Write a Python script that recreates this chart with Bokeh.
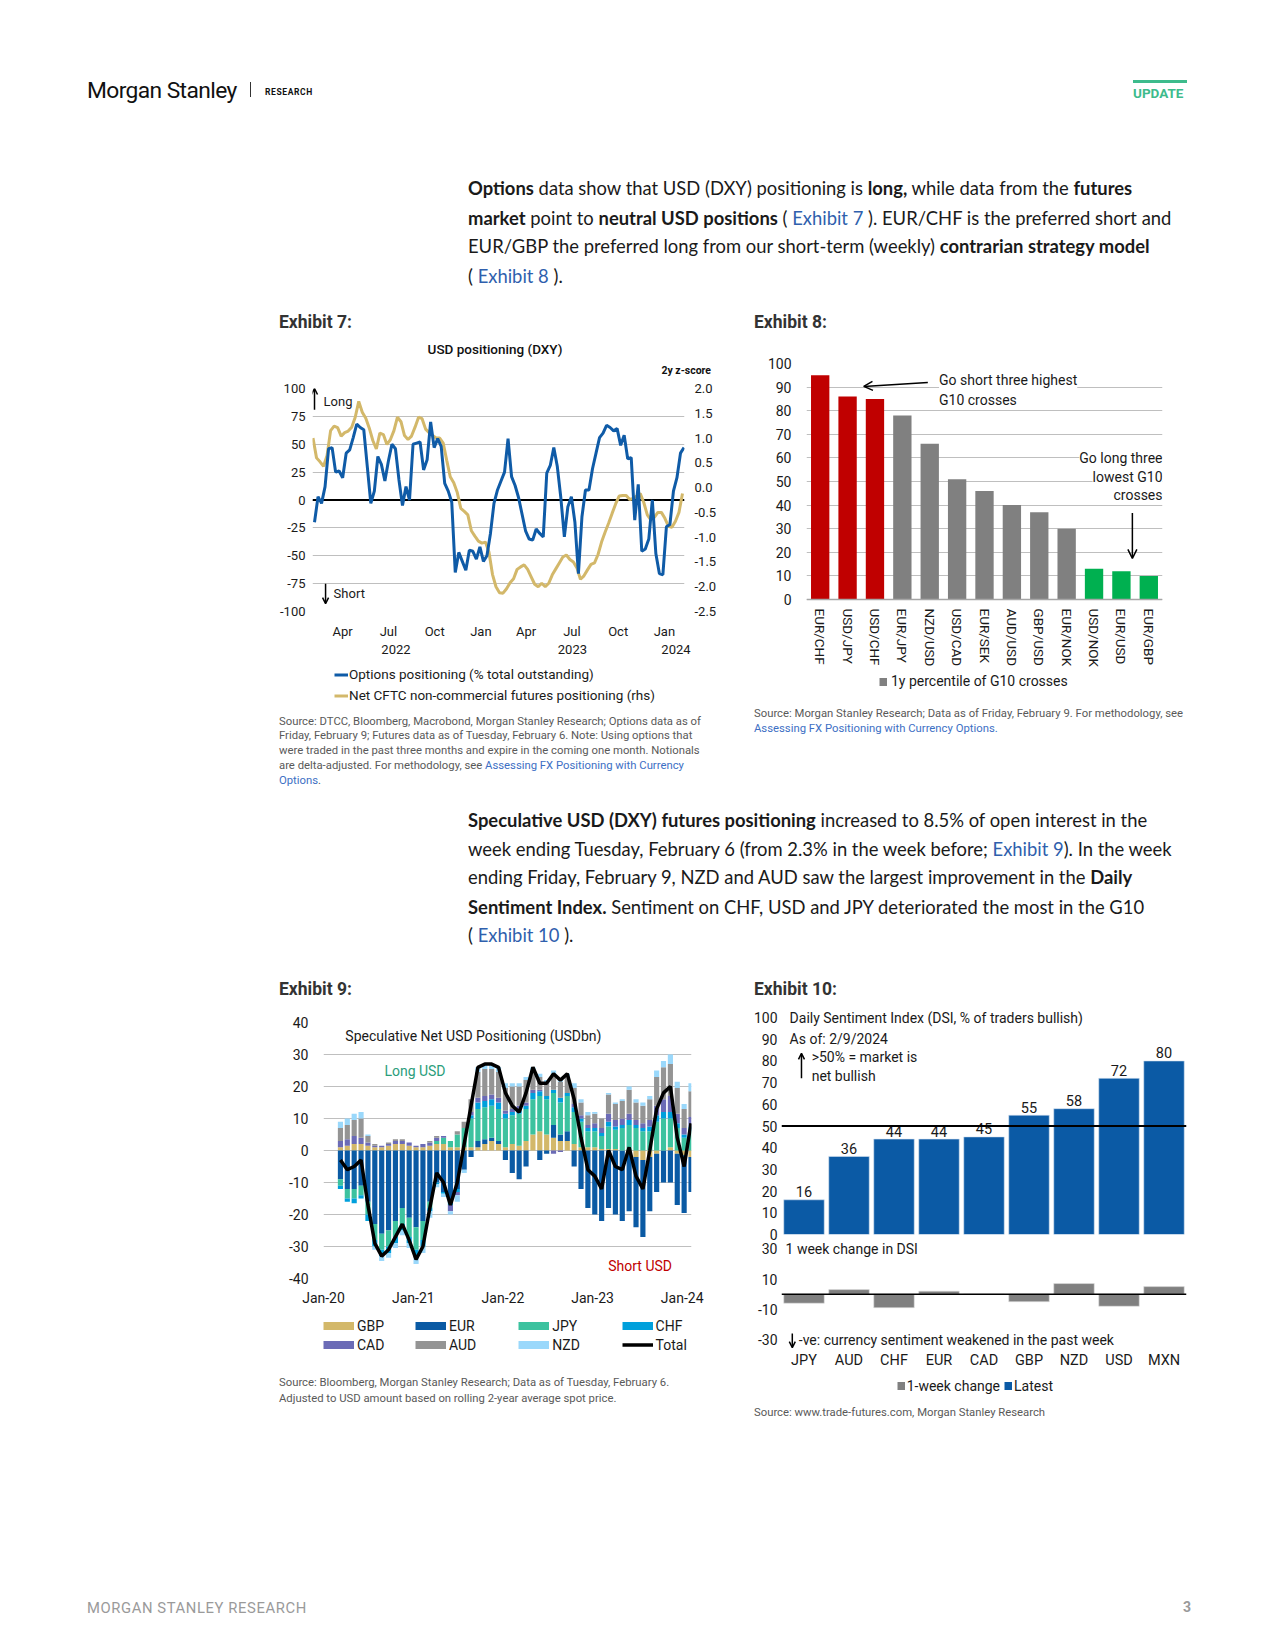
import calendar
from datetime import datetime, timedelta

from bokeh.plotting import figure
from bokeh.layouts import column, row
from bokeh.core.properties import value
from bokeh.models import (Range1d, FactorRange, LinearAxis, DatetimeAxis, FixedTicker,
                          DatetimeTickFormatter, NumeralTickFormatter, Span, Label, LabelSet,
                          Arrow, OpenHead, Legend, LegendItem, ColumnDataSource, Div, Spacer)
from bokeh.embed import file_html
from bokeh.resources import INLINE

NAN = float("nan")

# ---------------------------------------------------------------- DATA
# Exhibit 7: weekly options positioning (% total outstanding), from Fri 2022-02-04
ex7_options_start = datetime(2022, 2, 4)
ex7_options = [-20, 3, -3, 12, 46, 47, 25, 26, 20, 42,
               45, 56, 68, 65, 63, 30, -3, 8, 39, 32,
               17, 35, 50, 46, 18, -5, 12, 0, 50, 51,
               52, 27, 36, 70, 47, 55, 48, 15, 8, -2,
               -65, -47, -55, -63, -45, -46, -53, -42, -55, -50,
               -30, -3, 9, 17, 25, 55, 21, 13, 2, -13,
               -28, -35, -36, -26, -30, -33, 24, 31, 47, 30,
               2, -33, -6, 3, -20, -66, -15, 9, 9, 28,
               42, 56, 60, 67, 65, 62, 64, 49, 58, 37,
               38, -18, 14, -46, -44, -35, 0, -48, -66, -67,
               -24, -22, 8, 20, 42, 47]
# Exhibit 7: weekly net CFTC futures positioning (2y z-score), from Tue 2022-02-01
ex7_futures_start = datetime(2022, 2, 1)
ex7_futures = [1.0, 0.6, 0.52, 0.43, 0.65, 1.15, 1.24, 1.21, 1.04, 1.11,
               1.14, 1.22, 1.42, 1.74, 1.52, 1.4, 1.2, 0.95, 0.78, 1.1,
               1.07, 0.87, 0.97, 1.15, 1.42, 1.33, 1.05, 0.97, 1.04, 1.22,
               1.42, 1.39, 1.18, 1.11, 1.05, 1.0, 1.0, 0.9, 0.55, 0.22,
               0.1, -0.1, -0.42, -0.48, -0.55, -0.87, -0.98, -1.08, -1.12, -1.1,
               -1.3, -1.75, -2.0, -2.12, -2.13, -2.04, -1.92, -1.84, -1.65, -1.6,
               -1.56, -1.65, -1.8, -1.95, -2.0, -1.93, -2.0, -1.93, -1.76, -1.64,
               -1.52, -1.4, -1.36, -1.45, -1.5, -1.62, -1.85, -1.78, -1.66, -1.55,
               -1.52, -1.35, -1.1, -0.9, -0.72, -0.52, -0.33, -0.17, -0.16, -0.16,
               -0.24, -0.22, -0.17, -0.12, -0.3, -0.55, -0.65, -0.6, -0.5, -0.5,
               -0.62, -0.78, -0.8, -0.68, -0.5, -0.12]
ex7_month_ticks = ["2022-04-01", "2022-07-01", "2022-10-01", "2023-01-01",
                   "2023-04-01", "2023-07-01", "2023-10-01", "2024-01-01"]
ex7_year_ticks = ["2022-07-16", "2023-07-02", "2024-01-24"]

# Exhibit 8
ex8_pairs = ["EUR/CHF", "USD/JPY", "USD/CHF", "EUR/JPY", "NZD/USD", "USD/CAD", "EUR/SEK",
             "AUD/USD", "GBP/USD", "EUR/NOK", "USD/NOK", "EUR/USD", "EUR/GBP"]
ex8_pct = [95, 86, 85, 78, 66, 51, 46, 40, 37, 30, 13, 12, 10]
ex8_signal = ["short", "short", "short", "none", "none", "none", "none",
              "none", "none", "none", "long", "long", "long"]

# Exhibit 9: every 4 weeks from Tue 2020-03-10 (USDbn)
ex9_start = datetime(2020, 3, 10)
ex9_currencies = ["GBP", "EUR", "JPY", "CHF", "CAD", "AUD", "NZD"]
ex9_gbp = [1, 1.5, 2, 2, 1.5, 1, 1, 1.5, 2, 2,
           1.5, 1, 1, 1.5, 2, 2, 1, 1, 1, 1,
           1, 2, 3, 2, 1, 2, 1.5, 3, 5, 6,
           5, 4, 3, 3, 2, 1, 1, 1, 0.5, 0.5,
           0.5, 0, -1, -2, -3, -2, -1, 0, 1, -1,
           -1.5, -2]
ex9_eur = [-9, -12, -12, -11, -16, -23, -26, -25, -22, -18,
           -21, -24, -22, -16, -10, -13, -16, -12, -6, -2,
           2, 1.5, 1, 1, -3, -7, -9, -5, 0, -3,
           -1, 4, 2, 3, -5, -12, -18, -20, -22, -18,
           -20, -22, -18, -22, -24, -17, -12, -10, -10, -16,
           -18, -11]
ex9_jpy = [-2, -3, -3, -3, -4, -5, -5, -5, -5, -5,
           -6, -7, -6, -2, 1, 2, 2, 4, 6, 9,
           10, 10, 10, 10, 9, 9, 10, 10, 11, 11,
           11, 10, 10, 11, 10, 8, 5, 5, 4, 7,
           6, 7, 8, 7, 6, 6, 9, 10, 9, 7,
           4, 6]
ex9_chf = [-1, -1, -1.5, -1, -2, -2, -2, -2, -2, -2,
           -2, -2, -2, -1, -0.5, -0.5, -1, -1, 0, 1,
           2, 2, 2, 2, 1.5, 1, 1, 1, 2, 1.5,
           1, 1, 1.5, 1, 1.5, 1, 1, 1, 1, 1.5,
           1, 1, 1.5, 1, 1, 1.5, 2, 2, 2, 1.5,
           1, 1.5]
ex9_cad = [2, 2, 2.5, 2, 1, 0.5, 0.5, 0.5, 1, 1,
           1, 0.5, 1, 1, 1, 0.5, -2, -1, 0, 1,
           1.5, 1.5, 1.5, 1.5, 1, 1, 1.5, 1, 1, 0.5,
           0, -1, -0.5, 0, 1, 1, 1, 1.5, 1.5, 2.5,
           2, 2, 2, 1.5, 1.5, 2, 3, 4, 5, 3,
           2, 3]
ex9_aud = [4, 4.5, 5, 6, 2, 0.5, 0, 0.5, 0.5, 0.5,
           0, -0.5, 0, 0.5, 0.5, 0, 0, 1, 2, 4,
           8, 8.5, 8, 8, 7, 7, 6, 7, 6, 4,
           4, 5, 5, 5, 5, 4, 3, 3, 3, 6,
           5, 5.5, 7.5, 5.5, 5.5, 6.5, 9, 10, 10, 8,
           6, 8]
ex9_nzd = [2, 2, 2, 2, 0.5, -1, -1.5, -1.5, -1.5, -1.5,
           -1.5, -2, -2, -2, -1, -1, -1, -2, -1, 0,
           1.5, 1.5, 1.5, 1.5, 1.5, 1, 1, 1, 1, 1,
           1, 1, 1, 1, 1.5, 1, 1, 0.5, 0, 0.5,
           0.5, 0.5, 1, 1, 1, 1, 2, 2, 3, 2,
           1.5, 2.5]
ex9_total = [-3, -6, -5, -3, -17, -29, -33, -31, -27, -23,
             -28, -34, -30, -18, -7, -10, -17, -10, 2, 14,
             26, 27, 27, 26, 18, 14, 12, 18, 26, 21,
             21, 24, 22, 24, 16, 4, -6, -8, -12, 0,
             -5, -6, 1, -8, -12, 0, 13, 18, 20, 4,
             -5, 8.5]
ex9_year_ticks = ["2020-01-01", "2021-01-01", "2022-01-01", "2023-01-01", "2024-01-01"]

# Exhibit 10
ex10_ccy = ["JPY", "AUD", "CHF", "EUR", "CAD", "GBP", "NZD", "USD", "MXN"]
ex10_latest = [16, 36, 44, 44, 45, 55, 58, 72, 80]
ex10_change = [-6, 3, -9, 2, 0, -5, 7, -8, 5]

# ---------------------------------------------------------------- STYLE
CF = "Roboto"
TXT = "#1a1a1a"
GRID = "#bfbfbf"
BLUE7, GOLD7 = "#0f5ba7", "#d3b86a"
SIG_COL = {"short": "#c00000", "none": "#808080", "long": "#00b050"}
EX9_COL = {"GBP": "#d3b86a", "EUR": "#0a5aa4", "JPY": "#3cc29f", "CHF": "#00a0dc",
           "CAD": "#6b6bb6", "AUD": "#949494", "NZD": "#9ad8fb"}
BLUE10, GRAY10 = "#0b5aa5", "#808080"


def d(s):
    return datetime.strptime(s, "%Y-%m-%d")


def ms(dt):
    return calendar.timegm(dt.timetuple()) * 1000.0


def dtf(fmt):
    keys = ["microseconds", "milliseconds", "seconds", "minsec", "minutes",
            "hourmin", "hours", "days", "months", "years"]
    return DatetimeTickFormatter(**{k: fmt for k in keys})


def style_axis(ax, size="13px", standoff=6):
    ax.axis_line_color = None
    ax.major_tick_line_color = None
    ax.minor_tick_line_color = None
    ax.major_tick_out = 0
    ax.major_tick_in = 0
    ax.minor_tick_out = 0
    ax.minor_tick_in = 0
    ax.major_label_text_font = CF
    ax.major_label_text_font_size = size
    ax.major_label_text_color = TXT
    ax.major_label_standoff = standoff


def base_fig(**kw):
    p = figure(output_backend="svg", toolbar_location=None, **kw)
    p.outline_line_color = None
    p.background_fill_color = "white"
    p.border_fill_color = "white"
    return p


def legend_fig(width, height):
    p = base_fig(width=width, height=height, x_range=Range1d(0, 1), y_range=Range1d(0, 1),
                 min_border_left=0, min_border_right=0, min_border_top=0, min_border_bottom=0)
    p.xaxis.visible = False
    p.yaxis.visible = False
    p.xgrid.visible = False
    p.ygrid.visible = False
    return p


def lab(p, x, y, text, size="14px", color=TXT, align="left", bg=None, style="normal"):
    l = Label(x=x, y=y, text=text, text_font=CF, text_font_size=size, text_color=color,
              text_align=align, text_baseline="middle", text_font_style=style)
    if bg:
        l.background_fill_color = bg
    p.add_layout(l)
    return l


def arrow(p, x0, y0, x1, y1, size=7):
    p.add_layout(Arrow(x_start=x0, y_start=y0, x_end=x1, y_end=y1, line_width=1.5,
                       line_color="black",
                       end=OpenHead(size=size, line_width=1.5, line_color="black")))


def legend_at(p, items, x, y, **kw):
    # (x, y): legend's bottom-left corner, pixels from the frame's bottom-left corner
    lg = Legend(items=items, location=(x, y), padding=0, margin=0, border_line_color=None,
                background_fill_alpha=0, label_text_font=CF, label_text_color=TXT, **kw)
    p.add_layout(lg)
    return lg


def T(x, y, html, size, color="#1a1a1a", font="Roboto", weight="normal", extra="", anchor="left"):
    tx = {"left": "0", "center": "-50%", "right": "-100%"}[anchor]
    return (f'<div style="position:absolute;left:{x}px;top:{y + 2}px;transform:translate({tx},-50%);'
            f'font-family:{font};font-size:{size}px;color:{color};font-weight:{weight};'
            f'line-height:1.25;white-space:nowrap;{extra}">{html}</div>')


def page_div(w, h, parts):
    html = (f'<div style="position:relative;width:{w}px;height:{h}px;overflow:visible;">'
            + "".join(parts) + "</div>")
    return Div(text=html, width=w, height=h, margin=0, styles={"overflow": "visible"})


LINK = "#2f5fad"
SRC = "#595959"
SLINK = "#3d6fc4"


def a(t, c=LINK):
    return f'<span style="color:{c}">{t}</span>'


# ---------------------------------------------------------------- EXHIBIT 7
d_opt = [ex7_options_start + timedelta(days=7 * i) for i in range(len(ex7_options))]
d_fut = [ex7_futures_start + timedelta(days=7 * i) for i in range(len(ex7_futures))]

p7 = base_fig(width=465, height=281, x_axis_type="datetime",
              x_range=Range1d(datetime(2022, 1, 31), datetime(2024, 2, 10)),
              y_range=Range1d(-100, 100),
              min_border_left=42, min_border_right=51, min_border_top=8, min_border_bottom=50)
p7.extra_y_ranges = {"z": Range1d(-2.5, 2.0)}
yt7 = FixedTicker(ticks=list(range(-100, 101, 25)))
p7.yaxis.ticker = yt7
p7.yaxis.formatter = NumeralTickFormatter(format="0")
p7.ygrid.ticker = yt7
p7.ygrid.grid_line_color = GRID
p7.xgrid.visible = False
style_axis(p7.yaxis[0], "13px", 7)
p7.xaxis.ticker = FixedTicker(ticks=[ms(d(s)) for s in ex7_month_ticks])
p7.xaxis.formatter = dtf("%b")
style_axis(p7.xaxis[0], "13px", 12)
yr7 = DatetimeAxis(ticker=FixedTicker(ticks=[ms(d(s)) for s in ex7_year_ticks]),
                   formatter=dtf("%Y"))
style_axis(yr7, "13px", 3)
p7.add_layout(yr7, "below")
ax7r = LinearAxis(y_range_name="z",
                  ticker=FixedTicker(ticks=[-2.5, -2.0, -1.5, -1.0, -0.5, 0.0, 0.5, 1.0, 1.5, 2.0]),
                  formatter=NumeralTickFormatter(format="0.0"))
style_axis(ax7r, "13px", 10)
p7.add_layout(ax7r, "right")
p7.add_layout(Span(location=0, dimension="width", line_color="black", line_width=2,
                   level="underlay"))
r_fut = p7.line(d_fut, ex7_futures, y_range_name="z", line_color=GOLD7, line_width=3)
r_opt = p7.line(d_opt, ex7_options, line_color=BLUE7, line_width=3)
arrow(p7, ms(datetime(2022, 2, 4)), 81, ms(datetime(2022, 2, 4)), 100, size=6)
lab(p7, ms(datetime(2022, 2, 22)), 88.5, "Long", size="13px")
arrow(p7, ms(datetime(2022, 2, 26)), -75, ms(datetime(2022, 2, 26)), -93, size=6)
lab(p7, ms(datetime(2022, 3, 14)), -84, "Short", size="13px")

# legend strip for exhibit 7 (its frame is aligned with the chart frame above it)
p7leg = legend_fig(465, 54)
k_opt = p7leg.line([0], [NAN], line_color=BLUE7, line_width=3)
k_fut = p7leg.line([0], [NAN], line_color=GOLD7, line_width=3)
legend_at(p7leg, [LegendItem(label="Options positioning (% total outstanding)", renderers=[k_opt]),
                  LegendItem(label="Net CFTC non-commercial futures positioning (rhs)", renderers=[k_fut])],
          22, 11.5, glyph_width=14, glyph_height=17, label_height=17, label_standoff=1,
          spacing=4, label_text_font_size="13.5px")

# ---------------------------------------------------------------- EXHIBIT 8
# frame spans the bars and the label/legend area below them; the x axis sits at y = 0
p8 = base_fig(width=490, height=365, x_range=FactorRange(factors=ex8_pairs),
              y_range=Range1d(-41.95, 100),
              min_border_left=71, min_border_right=63, min_border_top=28, min_border_bottom=2)
src8 = ColumnDataSource(dict(pair=ex8_pairs, pct=ex8_pct,
                             color=[SIG_COL[s] for s in ex8_signal]))
p8.vbar(x="pair", top="pct", width=0.67, fill_color="color", line_color=None, source=src8)
yt8 = FixedTicker(ticks=list(range(0, 101, 10)))
p8.yaxis.ticker = yt8
p8.yaxis.formatter = NumeralTickFormatter(format="0")
p8.ygrid.ticker = yt8
p8.ygrid.grid_line_color = GRID
p8.xgrid.visible = False
style_axis(p8.yaxis[0], "14px", 15)
style_axis(p8.xaxis[0], "13.5px", 9)
p8.xaxis.fixed_location = 0
p8.xaxis.axis_line_color = "#a6a6a6"
p8.xaxis.axis_line_width = 1.5
p8.xaxis.major_label_orientation = "vertical"
lab(p8, 4.84, 92.8, "Go short three highest", bg="white")
lab(p8, 4.84, 84.7, "G10 crosses", bg="white")
arrow(p8, 4.43, 91.9, 2.09, 90.3, size=9)
lab(p8, 13.0, 59.9, "Go long three", align="right", bg="white")
lab(p8, 13.0, 52.1, "lowest G10", align="right", bg="white")
lab(p8, 13.0, 44.3, "crosses", align="right", bg="white")
arrow(p8, 11.9, 36.6, 11.9, 17.4, size=9)
k8 = p8.line(x=[ex8_pairs[0]], y=[NAN], line_color=SIG_COL["none"], line_width=8)
legend_at(p8, [LegendItem(label="1y percentile of G10 crosses", renderers=[k8])],
          73, 8.5, glyph_width=8, glyph_height=17, label_height=17, label_standoff=4,
          label_text_font_size="14px")

# ---------------------------------------------------------------- EXHIBIT 9
d9 = [ex9_start + timedelta(days=28 * i) for i in range(len(ex9_total))]
vals9 = {"GBP": ex9_gbp, "EUR": ex9_eur, "JPY": ex9_jpy, "CHF": ex9_chf,
         "CAD": ex9_cad, "AUD": ex9_aud, "NZD": ex9_nzd}
p9 = base_fig(width=465, height=305, x_axis_type="datetime",
              x_range=Range1d(datetime(2020, 1, 1), datetime(2024, 2, 8)),
              y_range=Range1d(-40, 40),
              min_border_left=53, min_border_right=44, min_border_top=19, min_border_bottom=30)
yt9 = FixedTicker(ticks=list(range(-40, 41, 10)))
p9.yaxis.ticker = yt9
p9.yaxis.formatter = NumeralTickFormatter(format="0")
p9.ygrid.ticker = yt9
p9.ygrid.grid_line_color = GRID
p9.xgrid.visible = False
style_axis(p9.yaxis[0], "14px", 15)
p9.xaxis.ticker = FixedTicker(ticks=[ms(d(s)) for s in ex9_year_ticks])
p9.xaxis.formatter = dtf("%b-%y")
style_axis(p9.xaxis[0], "14px", 11)
pos = [0.0] * len(d9)
neg = [0.0] * len(d9)
bar_w = 21 * 24 * 3600 * 1000
for ccy in ex9_currencies:
    v = vals9[ccy]
    bottom, top = [], []
    for i, val in enumerate(v):
        if val >= 0:
            bottom.append(pos[i]); top.append(pos[i] + val); pos[i] += val
        else:
            bottom.append(neg[i]); top.append(neg[i] + val); neg[i] += val
    src = ColumnDataSource(dict(date=d9, bottom=bottom, top=top))
    p9.vbar(x="date", bottom="bottom", top="top", width=bar_w, fill_color=EX9_COL[ccy],
            line_color=None, source=src)
r_tot = p9.line(d9, ex9_total, line_color="black", line_width=3.5)
lab(p9, ms(datetime(2020, 3, 30)), 35.7, "Speculative Net USD Positioning (USDbn)", size="14px")
lab(p9, ms(datetime(2020, 9, 5)), 24.9, "Long USD", size="14px", color="#2b9d7b")
lab(p9, ms(datetime(2023, 3, 6)), -36.2, "Short USD", size="14px", color="#c00000")

# legend strip for exhibit 9 (its frame is aligned with the chart frame above it)
p9leg = legend_fig(465, 52)
keys9 = {c: p9leg.line([0], [NAN], line_color=EX9_COL[c], line_width=8) for c in ex9_currencies}
keys9["Total"] = p9leg.line([0], [NAN], line_color="black", line_width=3.5)
cols9 = [["GBP", "CAD"], ["EUR", "AUD"], ["JPY", "NZD"], ["CHF", "Total"]]
for ci, col in enumerate(cols9):
    legend_at(p9leg, [LegendItem(label=lb, renderers=[keys9[lb]]) for lb in col],
              max(0.0, -11.3 + 103.3 * ci), 6.8, glyph_width=31, glyph_height=17,
              label_height=17, label_standoff=3, spacing=2, label_text_font_size="14px")

# ---------------------------------------------------------------- EXHIBIT 10
x10 = FactorRange(factors=ex10_ccy)
p10a = base_fig(width=490, height=239, x_range=x10, y_range=Range1d(0, 105.1),
                min_border_left=46, min_border_right=39, min_border_top=3, min_border_bottom=8)
src10 = ColumnDataSource(dict(ccy=ex10_ccy, latest=ex10_latest,
                              txt=[str(v) for v in ex10_latest]))
p10a.vbar(x="ccy", top="latest", width=0.9, fill_color=BLUE10, line_color="#d6e4f2",
          line_width=0.6, source=src10)
p10a.xaxis.visible = False
p10a.xgrid.visible = False
p10a.ygrid.visible = False
p10a.yaxis.ticker = FixedTicker(ticks=list(range(0, 101, 10)))
p10a.yaxis.formatter = NumeralTickFormatter(format="0")
style_axis(p10a.yaxis[0], "14px", 4)
p10a.add_layout(LabelSet(x="ccy", y="latest", text="txt", source=src10, text_align="center",
                         text_baseline="middle", y_offset=8, text_font=value(CF),
                         text_font_size="14.5px", text_color=TXT))
p10a.add_layout(Span(location=50, dimension="width", line_color="black", line_width=2))
lab(p10a, 0.18, 100, "Daily Sentiment Index (DSI, % of traders bullish)", size="14px")
lab(p10a, 0.18, 90, "As of: 2/9/2024", size="14px")
arrow(p10a, 0.444, 72, 0.444, 83.5, size=6)
lab(p10a, 0.67, 81.6, ">50% = market is", size="14px")
lab(p10a, 0.67, 73.1, "net bullish", size="14px")

# frame spans the change bars and the label/legend area; the x axis sits at y = -30
p10b = base_fig(width=490, height=158, x_range=x10, y_range=Range1d(-69.0, 34.16),
                min_border_left=46, min_border_right=39, min_border_top=0, min_border_bottom=2)
src10b = ColumnDataSource(dict(ccy=ex10_ccy, chg=ex10_change))
p10b.vbar(x="ccy", top="chg", width=0.9, fill_color=GRAY10, line_color="#e0e0e0",
          line_width=0.6, source=src10b)
p10b.xgrid.visible = False
p10b.ygrid.visible = False
p10b.yaxis.ticker = FixedTicker(ticks=[-30, -10, 10, 30])
p10b.yaxis.formatter = NumeralTickFormatter(format="0")
style_axis(p10b.yaxis[0], "14px", 4)
p10b.xaxis.fixed_location = -30
style_axis(p10b.xaxis[0], "14.5px", 12)
p10b.add_layout(Span(location=0, dimension="width", line_color="black", line_width=1.5))
lab(p10b, 0.09, 30, "1 week change in DSI", size="14px")
arrow(p10b, 0.24, -26, 0.24, -35.4, size=6)
lab(p10b, 0.384, -30, "-ve: currency sentiment weakened in the past week", size="14px")
kg = p10b.line(x=[ex10_ccy[0]], y=[NAN], line_color=GRAY10, line_width=8)
kb = p10b.line(x=[ex10_ccy[0]], y=[NAN], line_color=BLUE10, line_width=8)
legend_at(p10b, [LegendItem(label="1-week change", renderers=[kg]),
                 LegendItem(label="Latest", renderers=[kb])],
          115.7, 3.8, orientation="horizontal", glyph_width=8, glyph_height=17,
          label_height=17, label_standoff=2, spacing=4, label_text_font_size="14px")

# ---------------------------------------------------------------- PAGE TEXT
PF = "Lato"
PS = 18.4
GREEN = "#3dbb8c"
SS = 11.3
divA = page_div(1260, 335, [
    T(87, 89, "Morgan Stanley", 22.8, "#111", CF, "normal", "letter-spacing:-0.6px;"),
    '<div style="position:absolute;left:250px;top:82px;width:1px;height:15px;background:#333;"></div>',
    T(265, 90, "RESEARCH", 8.5, "#111", CF, "bold", "letter-spacing:0.6px;"),
    f'<div style="position:absolute;left:1133px;top:80px;width:54px;height:3px;background:{GREEN};"></div>',
    T(1133, 91, "UPDATE", 13.5, GREEN, CF, "bold"),
    T(468, 186.3, "<b>Options</b> data show that USD (DXY) positioning is <b>long,</b> while data from the <b>futures</b>", PS, "#1a1a1a", PF),
    T(468, 215.8, f"<b>market</b> point to <b>neutral USD positions</b> ( {a('Exhibit 7')} ). EUR/CHF is the preferred short and", PS, "#1a1a1a", PF),
    T(468, 244.2, "EUR/GBP the preferred long from our short-term (weekly) <b>contrarian strategy model</b>", PS, "#1a1a1a", PF),
    T(468, 273.6, f"( {a('Exhibit 8')} ).", PS, "#1a1a1a", PF),
    T(279, 321, "Exhibit 7:", 17.5, "#333", CF, "bold"),
    T(754, 321, "Exhibit 8:", 17.5, "#333", CF, "bold"),
])

div7t = page_div(465, 45, [
    T(225, 12, "USD positioning (DXY)", 13.5, "#111", CF, "500", anchor="center"),
    T(441, 34, "2y z-score", 10.5, "#111", CF, "bold", anchor="right"),
])
div7s = page_div(465, 75, [
    T(9, 4.6, "Source: DTCC, Bloomberg, Macrobond, Morgan Stanley Research; Options data as of", SS, SRC),
    T(9, 19.3, "Friday, February 9; Futures data as of Tuesday, February 6. Note: Using options that", SS, SRC),
    T(9, 34.0, "were traded in the past three months and expire in the coming one month. Notionals", SS, SRC),
    T(9, 48.8, "are delta-adjusted. For methodology, see " + a("Assessing FX Positioning with Currency", SLINK), SS, SRC),
    T(9, 63.5, a("Options", SLINK) + ".", SS, SRC),
])
div8s = page_div(490, 90, [
    T(19, 12, "Source: Morgan Stanley Research; Data as of Friday, February 9. For methodology, see", SS, SRC),
    T(19, 27, a("Assessing FX Positioning with Currency Options.", SLINK), SS, SRC),
])

divC = page_div(1260, 213, [
    T(468, 27.5, "<b>Speculative USD (DXY) futures positioning</b> increased to 8.5% of open interest in the", PS, "#1a1a1a", PF),
    T(468, 57.0, f"week ending Tuesday, February 6 (from 2.3% in the week before; {a('Exhibit 9')}). In the week", PS, "#1a1a1a", PF),
    T(468, 85.4, "ending Friday, February 9, NZD and AUD saw the largest improvement in the <b>Daily</b>", PS, "#1a1a1a", PF),
    T(468, 114.9, "<b>Sentiment Index.</b> Sentiment on CHF, USD and JPY deteriorated the most in the G10", PS, "#1a1a1a", PF),
    T(468, 143.3, f"( {a('Exhibit 10')} ).", PS, "#1a1a1a", PF),
    T(279, 198, "Exhibit 9:", 17.5, "#333", CF, "bold"),
    T(754, 198, "Exhibit 10:", 17.5, "#333", CF, "bold"),
])

div9s = page_div(465, 60, [
    T(9, 21, "Source: Bloomberg, Morgan Stanley Research; Data as of Tuesday, February 6.", SS, SRC),
    T(9, 37, "Adjusted to USD amount based on rolling 2-year average spot price.", SS, SRC),
])
div10s = page_div(490, 20, [
    T(19, 11, "Source: www.trade-futures.com, Morgan Stanley Research", SS, SRC),
])
divE = page_div(1260, 215, [
    T(87, 186, "MORGAN STANLEY RESEARCH", 14.8, "#9a9a9a", CF, "normal", "letter-spacing:0.6px;"),
    T(1183, 186, "3", 14, "#9a9a9a", CF, "bold"),
])

rowB = row(Spacer(width=270, height=10), column(div7t, p7, p7leg, div7s), column(p8, div8s))
rowD = row(Spacer(width=270, height=10), column(p9, p9leg, div9s), column(p10a, p10b, div10s))
page = column(divA, rowB, divC, rowD, divE)

open("out.html", "w").write(file_html(page, INLINE, title="Morgan Stanley Research"))
